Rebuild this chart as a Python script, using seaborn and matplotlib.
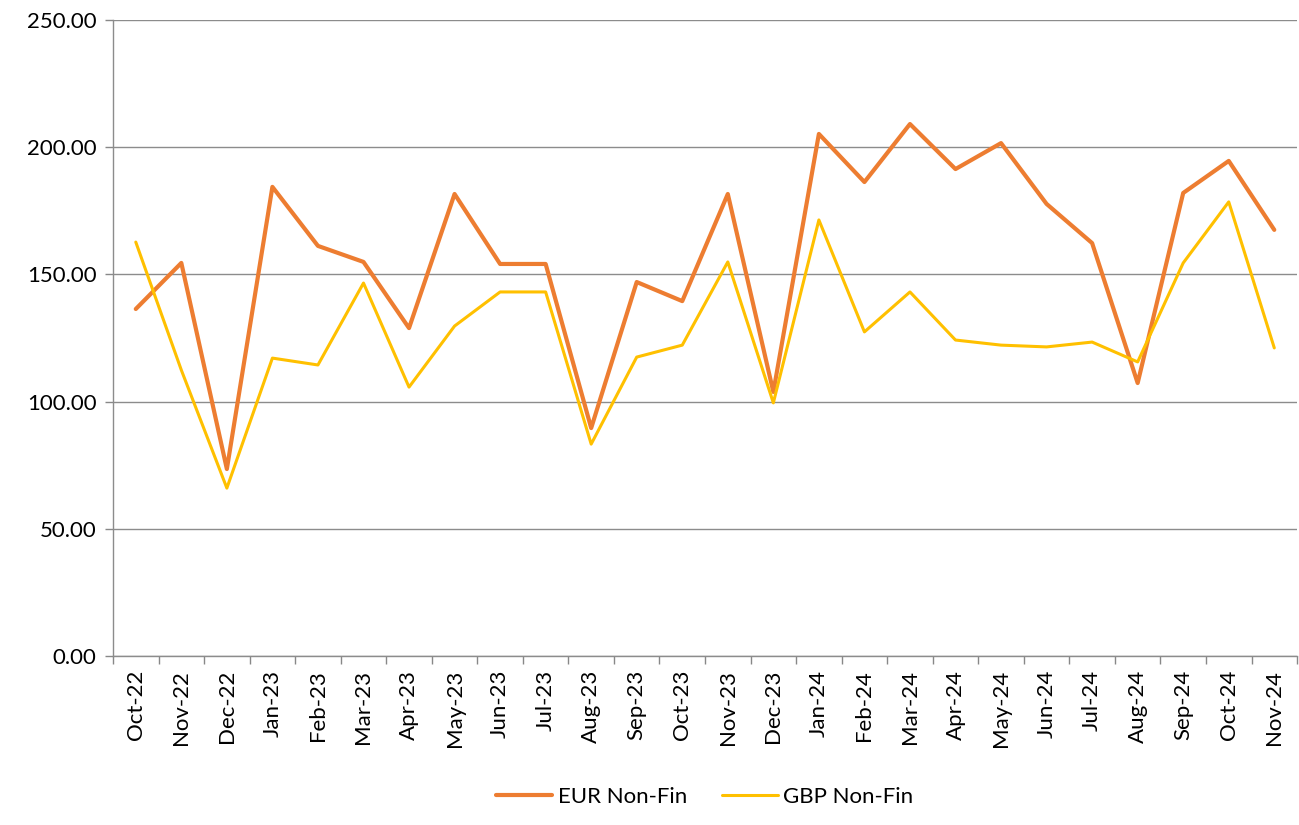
import numpy as np
import pandas as pd
import matplotlib
matplotlib.use("Agg")
import matplotlib.pyplot as plt
import seaborn as sns
from matplotlib.ticker import FixedLocator, FuncFormatter

months = ["Oct-22", "Nov-22", "Dec-22", "Jan-23", "Feb-23", "Mar-23", "Apr-23", "May-23",
          "Jun-23", "Jul-23", "Aug-23", "Sep-23", "Oct-23", "Nov-23", "Dec-23", "Jan-24",
          "Feb-24", "Mar-24", "Apr-24", "May-24", "Jun-24", "Jul-24", "Aug-24", "Sep-24",
          "Oct-24", "Nov-24"]
eur_non_fin = [136.4, 154.5, 73.5, 184.4, 161.2, 154.9, 128.9, 181.6, 154.1, 154.1, 89.6, 147.0,
               139.5, 181.6, 103.8, 205.2, 186.3, 209.1, 191.4, 201.6, 177.7, 162.3, 107.3,
               182.0, 194.6, 167.5]
gbp_non_fin = [162.7, 112.4, 66.0, 117.1, 114.4, 146.6, 105.7, 129.7, 143.1, 143.1, 83.3, 117.5,
               122.2, 154.9, 99.5, 171.4, 127.4, 143.1, 124.2, 122.2, 121.5, 123.4, 115.6,
               154.5, 178.5, 121.1]
y_ticks = [0, 50, 100, 150, 200, 250]

sns.set_theme(style="white")
plt.rcParams["font.family"] = ["Lato", "DejaVu Sans"]
plt.rcParams["text.color"] = "black"

fig = plt.figure(figsize=(12.99, 8.25), dpi=100)
ax = fig.add_axes([0.087, 0.2048, 0.9115, 0.771])

x = np.arange(len(months))
df = pd.DataFrame({"x": x, "EUR Non-Fin": eur_non_fin, "GBP Non-Fin": gbp_non_fin})
sns.lineplot(data=df, x="x", y="EUR Non-Fin", ax=ax, color="#ED7D31", linewidth=3.0,
             label="EUR Non-Fin", solid_joinstyle="round", solid_capstyle="round")
sns.lineplot(data=df, x="x", y="GBP Non-Fin", ax=ax, color="#FFC000", linewidth=2.2,
             label="GBP Non-Fin", solid_joinstyle="round", solid_capstyle="round")

ax.set_xlim(-0.5, len(months) - 0.5)
ax.set_ylim(0, 250)
ax.set_yticks(y_ticks)
ax.yaxis.set_major_formatter(FuncFormatter(lambda v, p: f"{v:.2f}"))
ax.set_xticks(x)
ax.set_xticklabels(months, rotation=90)
ax.xaxis.set_minor_locator(FixedLocator(np.arange(-0.5, len(months), 1.0)))
ax.tick_params(axis="x", which="major", length=0, pad=10, labelsize=16, colors="black")
ax.tick_params(axis="x", which="minor", length=6, width=1, color="#888888", bottom=True)
ax.tick_params(axis="y", which="major", length=6, width=1, color="#888888", left=True,
               labelsize=16, labelcolor="black", pad=6)
ax.set_xlabel("")
ax.set_ylabel("")

ax.grid(axis="y", color="#8c8c8c", linewidth=1.0)
ax.set_axisbelow(True)
for s in ["top", "right"]:
    ax.spines[s].set_visible(False)
for s in ["left", "bottom"]:
    ax.spines[s].set_color("#8c8c8c")
    ax.spines[s].set_linewidth(1.0)

leg = ax.legend(loc="center", bbox_to_anchor=(0.5, -0.222), ncol=2, frameon=False,
                fontsize=16, handlelength=2.5, columnspacing=1.6, handletextpad=0.25)
for t in leg.get_texts():
    t.set_color("black")

fig.savefig("out.png", dpi=100)
